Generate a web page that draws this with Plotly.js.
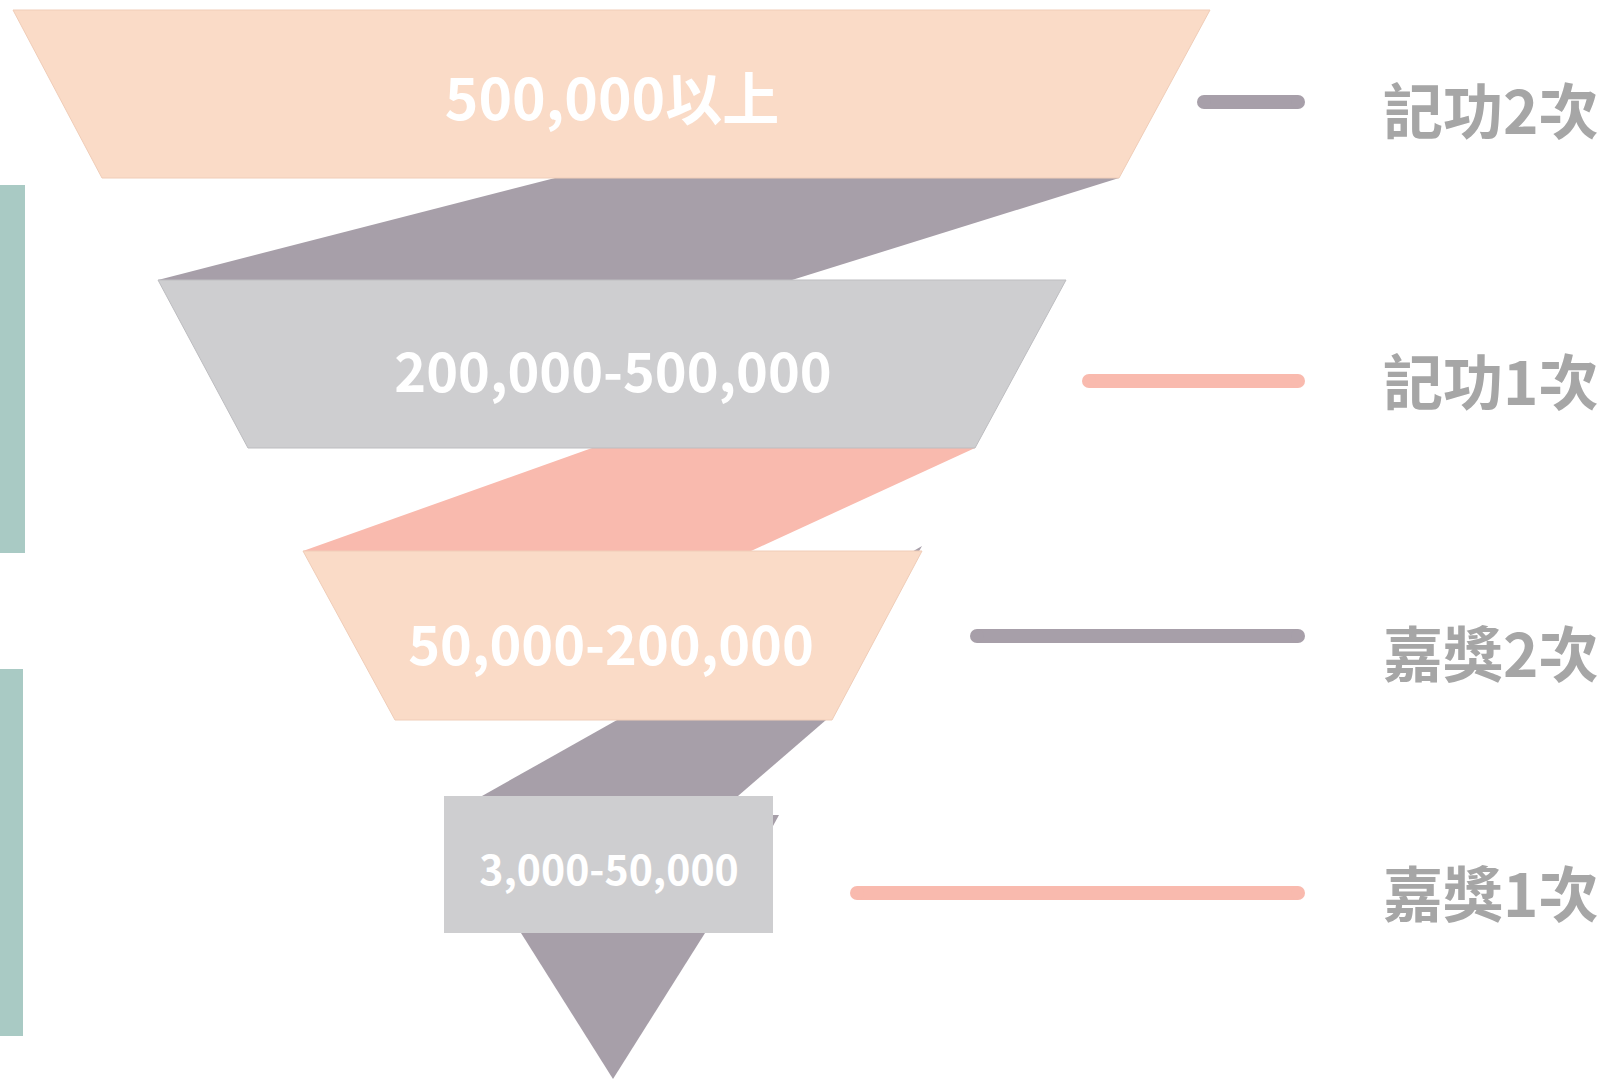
<!DOCTYPE html>
<html>
<head>
<meta charset="utf-8">
<script src="https://cdn.plot.ly/plotly-3.0.1.min.js"></script>
<style>html,body{margin:0;padding:0;background:#fff;}#chart{width:1607px;height:1080px;}</style>
</head>
<body>
<div id="chart"></div>
<script>
// ---- data ----
const tiers = ['500,000以上', '200,000-500,000', '50,000-200,000', '3,000-50,000'];
const awards = ['記功2次', '記功1次', '嘉獎2次', '嘉獎1次'];
const groups = ['記功', '嘉獎'];

// ---- styles ----
const PEACH = '#FADBC7', GP = '#A79FA9', LG = '#CECED0', SALMON = '#F9BAAE', TEAL = '#A9CAC4', LABEL = '#A6A6A6';
const tierColors = [PEACH, LG, PEACH, LG];
const lineColors = [GP, SALMON, GP, SALMON];
const connectorColors = [GP, SALMON, GP, GP];

// ---- layout geometry (pixel space of the axes) ----
const tierShapes = [
  [[13, 10], [1210, 10], [1119, 178], [102, 178]],
  [[158, 280], [1066, 280], [975, 448], [248, 448]],
  [[303, 551], [922, 551], [832, 720], [395, 720]],
  [[444, 796], [773, 796], [773, 933], [444, 933]]
];
const connectorShapes = [
  [[555, 178], [1119, 178], [792, 280], [158, 280]],
  [[592, 448], [975, 448], [751, 551], [303, 551]],
  [[617, 720], [826, 720], [738, 796], [482, 796]],
  [[521, 933], [705, 933], [613, 1079]]
];
const slivers = [
  [[910, 553], [922, 546], [918, 553]],
  [[773, 815], [779, 815], [773, 826]]
];
const groupBars = [[0, 25, 185, 553], [0, 23, 669, 1036]];
const tierTextPos = [[612, 106], [613, 378], [611, 651], [609, 875]];
const tierFontSizes = [57, 54, 54, 41];
const labelX = 1383;
const labelY = [119, 390, 662, 902];
const lineY = [102, 381, 636, 893];
const lineStart = [1204, 1089, 977, 857];
const lineEnd = 1298;

const traces = [];
function poly(pts, color, outline) {
  const xs = pts.map(p => p[0]); const ys = pts.map(p => p[1]);
  xs.push(pts[0][0]); ys.push(pts[0][1]);
  traces.push({type: 'scatter', mode: 'lines', x: xs, y: ys, fill: 'toself', fillcolor: color,
    line: {width: outline ? 1 : 0, color: outline || color}, hoverinfo: 'skip', showlegend: false});
}
// group bars
groupBars.forEach((b, i) => poly([[b[0], b[2]], [b[1], b[2]], [b[1], b[3]], [b[0], b[3]]], TEAL));
// connectors & slivers behind tiers
slivers.forEach(s => poly(s, GP));
connectorShapes.forEach((s, i) => poly(s, connectorColors[i]));
// tiers
tierShapes.forEach((s, i) => poly(s, tierColors[i], i === 3 ? null : (i === 1 ? '#BDBDC0' : '#F0CDB8')));
// tier texts
tiers.forEach((t, i) => {
  traces.push({type: 'scatter', mode: 'text', x: [tierTextPos[i][0]], y: [tierTextPos[i][1]], text: [t],
    textposition: 'middle center', hoverinfo: 'skip', showlegend: false,
    textfont: {family: 'Noto Sans CJK TC, Noto Sans', size: tierFontSizes[i], color: '#FFFFFF', weight: 700}});
});
// right lines with rounded ends
awards.forEach((a, i) => {
  traces.push({type: 'scatter', mode: 'lines+markers', x: [lineStart[i], lineEnd], y: [lineY[i], lineY[i]],
    line: {width: 14, color: lineColors[i]}, marker: {size: 14, color: lineColors[i], line: {width: 0}},
    hoverinfo: 'skip', showlegend: false});
  traces.push({type: 'scatter', mode: 'text', x: [labelX], y: [labelY[i]], text: [a], textposition: 'middle right',
    hoverinfo: 'skip', showlegend: false,
    textfont: {family: 'Noto Sans CJK TC', size: 60, color: LABEL, weight: 700}});
});

const layout = {
  width: 1607, height: 1080,
  margin: {l: 0, r: 0, t: 0, b: 0},
  paper_bgcolor: '#FFFFFF', plot_bgcolor: '#FFFFFF',
  xaxis: {range: [0, 1607], visible: false, fixedrange: true},
  yaxis: {range: [1080, 0], visible: false, fixedrange: true},
  showlegend: false
};
Plotly.newPlot('chart', traces, layout, {staticPlot: true, displayModeBar: false});
</script>
</body>
</html>
